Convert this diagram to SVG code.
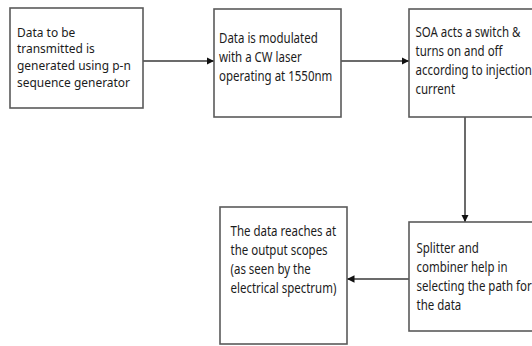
<svg xmlns="http://www.w3.org/2000/svg" width="532" height="346" viewBox="0 0 532 346">
<defs>
<style>
.box{fill:#fff;stroke:#5a5a5a;stroke-width:1.6}
.lbl{font-family:"Noto Sans","Open Sans",sans-serif;font-size:14px;fill:#1c1c1c}
.sm{font-size:13px}
.con{stroke:#3a3a3a;stroke-width:1.5;fill:none}
</style>
<marker id="ah" viewBox="0 0 10 10" refX="10" refY="5" markerWidth="5" markerHeight="5" orient="auto" markerUnits="strokeWidth">
<path d="M0,0 L10,5 L0,10 z" fill="#111"/>
</marker>
</defs>
<rect width="532" height="346" fill="#fff"/>
<g id="connectors">
<line class="con" x1="143" y1="61" x2="214" y2="61" marker-end="url(#ah)"/>
<line class="con" x1="341" y1="61" x2="409" y2="61" marker-end="url(#ah)"/>
<line class="con" x1="465" y1="117" x2="465" y2="222" marker-end="url(#ah)"/>
<line class="con" x1="409" y1="279" x2="347" y2="279" marker-end="url(#ah)"/>
</g>
<g id="n1">
<rect class="box" x="10" y="8" width="133" height="100"/>
<text class="lbl sm" transform="translate(17,36.5) scale(0.92,1)"><tspan x="0" y="0">Data to be</tspan><tspan x="0" y="16.7">transmitted is</tspan><tspan x="0" y="33.4">generated using p-n</tspan><tspan x="0" y="50.1">sequence generator</tspan></text>
</g>
<g id="n2">
<rect class="box" x="214" y="9" width="127" height="108"/>
<text class="lbl" transform="translate(219,43) scale(0.82,1)"><tspan x="0" y="0">Data is modulated</tspan><tspan x="0" y="19">with a CW laser</tspan><tspan x="0" y="38">operating at 1550nm</tspan></text>
</g>
<g id="n3">
<rect class="box" x="409" y="9" width="135" height="108"/>
<text class="lbl" transform="translate(415.5,37) scale(0.82,1)"><tspan x="0" y="0">SOA acts a switch &amp;</tspan><tspan x="0" y="19">turns on and off</tspan><tspan x="0" y="38">according to injection</tspan><tspan x="0" y="57">current</tspan></text>
</g>
<g id="n4">
<rect class="box" x="220" y="207" width="127" height="137"/>
<text class="lbl" transform="translate(230.5,236) scale(0.82,1)"><tspan x="0" y="0">The data reaches at</tspan><tspan x="0" y="19">the output scopes</tspan><tspan x="0" y="38">(as seen by the</tspan><tspan x="0" y="57">electrical spectrum)</tspan></text>
</g>
<g id="n5">
<rect class="box" x="409" y="222" width="135" height="109"/>
<text class="lbl" transform="translate(416.5,253) scale(0.82,1)"><tspan x="0" y="0">Splitter and</tspan><tspan x="0" y="19">combiner help in</tspan><tspan x="0" y="38">selecting the path for</tspan><tspan x="0" y="57">the data</tspan></text>
</g>
</svg>
